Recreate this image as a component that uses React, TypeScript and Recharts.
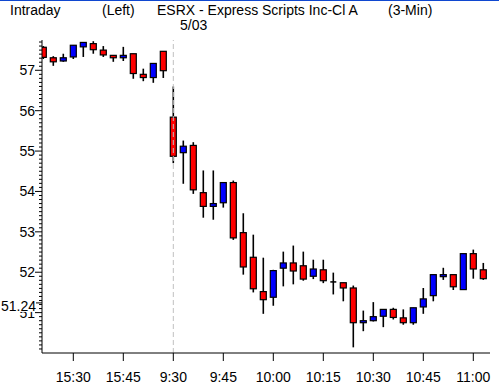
import React from "react";
import { ComposedChart, Bar, XAxis, YAxis, ReferenceLine } from "recharts";

const times = [
  "15:21", "15:24", "15:27", "15:30", "15:33", "15:36", "15:39", "15:42", "15:45", "15:48", "15:51", "15:54", "15:57",
  "9:30", "9:33", "9:36", "9:39", "9:42", "9:45", "9:48", "9:51", "9:54", "9:57", "10:00", "10:03", "10:06", "10:09",
  "10:12", "10:15", "10:18", "10:21", "10:24", "10:27", "10:30", "10:33", "10:36", "10:39", "10:42", "10:45", "10:48",
  "10:51", "10:54", "10:57", "11:00", "11:03",
];
const opens = [
  57.57, 57.31, 57.23, 57.33, 57.58, 57.66, 57.5, 57.37, 57.31, 57.41, 56.9, 56.82, 57.47,
  55.84, 54.96, 55.14, 53.97, 53.63, 53.72, 54.22, 52.98, 52.37, 51.52, 51.38, 52.1, 52.23, 52.16,
  51.9, 52.06, 51.76, 51.74, 51.61, 50.75, 50.8, 50.91, 51.08, 50.87, 50.75, 51.14, 51.42,
  51.89, 51.94, 51.57, 52.46, 52.06,
];
const highs = [
  57.6, 57.35, 57.41, 57.62, 57.7, 57.72, 57.6, 57.37, 57.58, 57.41, 57.04, 57.17, 57.47,
  56.6, 55.26, 55.22, 54.52, 54.52, 54.22, 54.27, 53.46, 52.93, 52.36, 52.06, 52.51, 52.66, 52.51,
  52.31, 52.31, 51.99, 51.74, 51.67, 51.05, 51.26, 51.08, 51.12, 51.08, 51.12, 51.61, 51.94,
  52.11, 51.94, 52.46, 52.56, 52.23,
];
const lows = [
  57.28, 57.11, 57.21, 57.28, 57.33, 57.41, 57.33, 57.21, 57.23, 56.79, 56.73, 56.69, 56.81,
  54.7, 54.19, 53.94, 53.35, 53.3, 53.6, 52.8, 51.94, 51.5, 50.97, 51.17, 51.65, 51.7, 51.79,
  51.83, 51.73, 51.45, 51.28, 50.14, 50.54, 50.78, 50.64, 50.83, 50.7, 50.7, 50.97, 51.28,
  51.81, 51.56, 51.56, 51.84, 51.81,
];
const closes = [
  57.32, 57.21, 57.31, 57.62, 57.69, 57.51, 57.38, 57.31, 57.37, 56.92, 56.82, 57.17, 56.99,
  54.87, 55.12, 54.04, 53.63, 53.7, 54.22, 52.85, 52.13, 51.59, 51.32, 52.04, 52.23, 52.03, 51.83,
  52.08, 51.79, 51.76, 51.61, 50.75, 50.8, 50.9, 51.08, 50.88, 50.75, 51.12, 51.34, 51.94,
  51.94, 51.64, 52.46, 52.08, 51.84,
];
const xTickIndex = [3, 8, 13, 18, 23, 28, 33, 38, 43];
const xTickLabels = ["15:30", "15:45", "9:30", "9:45", "10:00", "10:15", "10:30", "10:45", "11:00"];
const yMajorTicks = [51, 52, 53, 54, 55, 56, 57];
const markPrice = 51.24;
const sessionBreakIndex = 13;

const FONT = "'Liberation Sans', Arial, sans-serif";

const data = times.map((t, i) => ({
  i,
  t,
  open: opens[i],
  high: highs[i],
  low: lows[i],
  close: closes[i],
  range: [lows[i], highs[i]],
}));

const minorTicks: number[] = [];
for (let k = 501; k <= 577; k++) minorTicks.push(k / 10);
const yTicks = [...minorTicks, markPrice];

const Candle = (props: any) => {
  const { x, y, width, height, payload } = props;
  if (!payload) return null;
  const { open, close, high, low } = payload;
  const cx = x + width / 2;
  const top = Math.min(y, y + height);
  const h = Math.abs(height);
  const rng = high - low;
  const py = (v: number) => top + ((high - v) / rng) * h;
  const bt = py(Math.max(open, close));
  const bb = py(Math.min(open, close));
  const bw = 6;
  const doji = Math.abs(open - close) < 1e-9;
  const fill = close > open ? "#0000ff" : "#ff0000";
  return (
    <g>
      <line x1={cx} x2={cx} y1={top} y2={top + h} stroke="#000" strokeWidth={1.6} />
      {doji ? (
        <line x1={cx - bw / 2} x2={cx + bw / 2} y1={bt} y2={bt} stroke="#000" strokeWidth={1.5} />
      ) : (
        <rect x={cx - bw / 2} y={bt} width={bw} height={Math.max(bb - bt, 1)} fill={fill} stroke="#000" strokeWidth={1.2} />
      )}
    </g>
  );
};

const YTick = (props: any) => {
  const { x, y, payload } = props;
  const v = payload.value;
  const isMark = Math.abs(v - markPrice) < 1e-9;
  const isMajor = !isMark && yMajorTicks.some((m) => Math.abs(v - m) < 1e-6);
  if (isMark) {
    const ly = y + 3;
    return (
      <g>
        <rect x={0} y={ly - 6} width={x - 7} height={12} fill="#fff" />
        <line x1={x - 6} x2={x} y1={y} y2={y} stroke="#000" strokeWidth={1} />
        <text x={x - 6} y={ly} dy="0.36em" textAnchor="end" fontSize={14} fontFamily={FONT} fill="#000">
          {markPrice.toFixed(2)}
        </text>
      </g>
    );
  }
  if (isMajor) {
    return (
      <g>
        <line x1={x - 7} x2={x} y1={y} y2={y} stroke="#000" strokeWidth={1} />
        <text x={x - 7} y={y} dy="0.36em" textAnchor="end" fontSize={14} fontFamily={FONT} fill="#000">
          {String(Math.round(v))}
        </text>
      </g>
    );
  }
  return <line x1={x - 3} x2={x} y1={y} y2={y} stroke="#000" strokeWidth={1} />;
};

const txt: React.CSSProperties = {
  position: "absolute",
  fontFamily: FONT,
  fontSize: 14,
  lineHeight: "14px",
  color: "#000",
  whiteSpace: "nowrap",
};

export default function App() {
  return (
    <div style={{ position: "absolute", left: 0, top: 0, width: 499, height: 390, background: "#fff", overflow: "hidden" }}>
      <div style={{ position: "absolute", left: 0, top: 0, width: 499, height: 1, background: "#1048d0" }} />
      <div style={{ ...txt, left: 10, top: 3 }}>Intraday</div>
      <div style={{ ...txt, left: 102, top: 3 }}>(Left)</div>
      <div style={{ ...txt, left: 157, top: 3 }}>ESRX - Express Scripts Inc-Cl A</div>
      <div style={{ ...txt, left: 388, top: 3 }}>(3-Min)</div>
      <div style={{ ...txt, left: 180, top: 18 }}>5/03</div>
      <ComposedChart
        width={499}
        height={390}
        data={data}
        margin={{ top: 40, right: 9, bottom: 7, left: 0 }}
        style={{ position: "absolute", left: 0, top: 0 }}
      >
        <XAxis
          dataKey="i"
          type="number"
          domain={[-0.13, 44.67]}
          allowDataOverflow
          ticks={xTickIndex}
          interval={0}
          tickFormatter={(v: number) => xTickLabels[xTickIndex.indexOf(v)] ?? ""}
          height={30}
          tickSize={8}
          tickMargin={11}
          stroke="#000"
          tick={{ fill: "#000", fontSize: 14, fontFamily: FONT }}
          axisLine={{ stroke: "#000", strokeWidth: 1 }}
          tickLine={{ stroke: "#000" }}
        />
        <YAxis
          type="number"
          domain={[50, 57.75]}
          allowDataOverflow
          ticks={yTicks}
          interval={0}
          width={42}
          tickSize={0}
          tickMargin={0}
          tickLine={false}
          axisLine={{ stroke: "#000", strokeWidth: 1 }}
          tick={<YTick />}
        />
        <ReferenceLine x={sessionBreakIndex} stroke="#c0c0c0" strokeDasharray="5 3" strokeWidth={1} />
        <Bar dataKey="range" barSize={6} shape={<Candle />} isAnimationActive={false} />
      </ComposedChart>
    </div>
  );
}
